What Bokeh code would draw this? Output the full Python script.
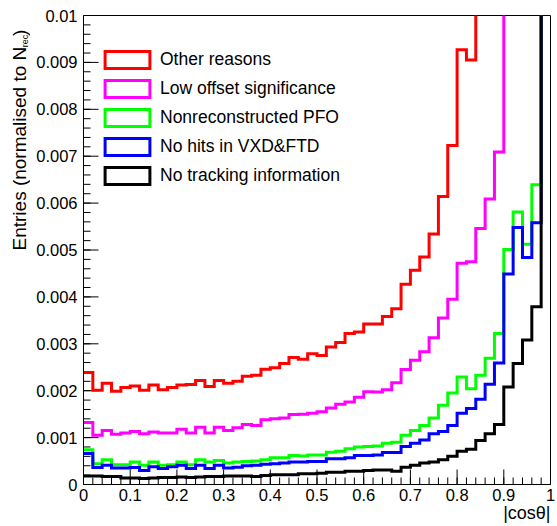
import math
from bokeh.plotting import figure
from bokeh.layouts import row
from bokeh.models import (Range1d, FixedTicker, Label, Legend, LegendItem, Title,
                          ColumnDataSource)
from bokeh.embed import file_html
from bokeh.resources import INLINE

# ---------------- data ----------------
n_bins = 50
bin_edges = [round(i / n_bins, 4) for i in range(n_bins + 1)]

series_names = ["Other reasons", "Low offset significance", "Nonreconstructed PFO",
                "No hits in VXD&FTD", "No tracking information"]
series_colors = ["#ff0000", "#ff00ff", "#00ff00", "#0000ff", "#000000"]

other_reasons = [0.00239, 0.00201, 0.00216, 0.00199, 0.00207, 0.00210, 0.00201, 0.00212, 0.00202, 0.00207,
                 0.00212, 0.00213, 0.00222, 0.00209, 0.00222, 0.00216, 0.00220, 0.00231, 0.00233, 0.00246,
                 0.00249, 0.00258, 0.00271, 0.00267, 0.00279, 0.00275, 0.00293, 0.00303, 0.00322, 0.00325,
                 0.00342, 0.00342, 0.00358, 0.00375, 0.00427, 0.00457, 0.00485, 0.00534, 0.00614, 0.00723,
                 0.00927, 0.00905, 0.0112, 0.0125, 0.0140, 0.0160, 0.0190, 0.0230, 0.0280, 0.0350]

low_offset = [0.00132, 0.00105, 0.00115, 0.00107, 0.00110, 0.00113, 0.00108, 0.00112, 0.00110, 0.00110,
              0.00118, 0.00110, 0.00122, 0.00110, 0.00122, 0.00115, 0.00121, 0.00128, 0.00126, 0.00138,
              0.00140, 0.00142, 0.00149, 0.00150, 0.00152, 0.00155, 0.00163, 0.00171, 0.00176, 0.00186,
              0.00198, 0.00197, 0.00202, 0.00217, 0.00245, 0.00265, 0.00283, 0.00313, 0.00355, 0.00395,
              0.00472, 0.00475, 0.00546, 0.00609, 0.00709, 0.0105, 0.0120, 0.0140, 0.0170, 0.0210]

nonreco_pfo = [0.00074, 0.00044, 0.00053, 0.00042, 0.00042, 0.00048, 0.00041, 0.00048, 0.00041, 0.00042,
               0.00048, 0.00042, 0.00053, 0.00048, 0.00051, 0.00046, 0.00048, 0.00049, 0.00050, 0.00053,
               0.00057, 0.00057, 0.00062, 0.00061, 0.00063, 0.00063, 0.00069, 0.00071, 0.00076, 0.00080,
               0.00081, 0.00082, 0.00088, 0.00090, 0.00105, 0.00115, 0.00126, 0.00142, 0.00169, 0.00195,
               0.00229, 0.00204, 0.00233, 0.00269, 0.00322, 0.00501, 0.00581, 0.00512, 0.00639, 0.0120]

no_hits = [0.00066, 0.00036, 0.00041, 0.00035, 0.00035, 0.00036, 0.00030, 0.00038, 0.00034, 0.00038,
           0.00041, 0.00034, 0.00041, 0.00034, 0.00041, 0.00035, 0.00037, 0.00040, 0.00041, 0.00043,
           0.00044, 0.00046, 0.00048, 0.00048, 0.00049, 0.00049, 0.00055, 0.00055, 0.00057, 0.00062,
           0.00062, 0.00063, 0.00068, 0.00068, 0.00081, 0.00088, 0.00095, 0.00108, 0.00113, 0.00126,
           0.00152, 0.00162, 0.00182, 0.00214, 0.00259, 0.00449, 0.00548, 0.00484, 0.00558, 0.0110]

no_tracking = [0.00018, 0.00018, 0.00017, 0.00017, 0.00014, 0.00014, 0.00013, 0.00014, 0.00015, 0.00015,
               0.00016, 0.00015, 0.00016, 0.00017, 0.00017, 0.00018, 0.00018, 0.00018, 0.00017, 0.00019,
               0.00021, 0.00021, 0.00021, 0.00023, 0.00023, 0.00024, 0.00026, 0.00026, 0.00028, 0.00028,
               0.00030, 0.00031, 0.00031, 0.00028, 0.00037, 0.00041, 0.00046, 0.00048, 0.00053, 0.00060,
               0.00071, 0.00075, 0.00094, 0.00108, 0.00128, 0.00208, 0.00258, 0.00308, 0.00379, 0.0105]

all_series = [other_reasons, low_offset, nonreco_pfo, no_hits, no_tracking]

x_ticks = [0.0, 0.1, 0.2, 0.3, 0.4, 0.5, 0.6, 0.7, 0.8, 0.9, 1.0]
x_tick_labels = ["0", "0.1", "0.2", "0.3", "0.4", "0.5", "0.6", "0.7", "0.8", "0.9", "1"]
y_ticks = [0.0, 0.001, 0.002, 0.003, 0.004, 0.005, 0.006, 0.007, 0.008, 0.009, 0.01]
y_tick_labels = ["0", "0.001", "0.002", "0.003", "0.004", "0.005", "0.006", "0.007",
                 "0.008", "0.009", "0.01"]
x_minor_ticks = [round(i * 0.02, 4) for i in range(51)]
y_minor_ticks = [round(i * 0.0002, 6) for i in range(51)]

x_title = "|cos\u03b8|"
y_title_main = "Entries (normalised to N"
y_title_sub = "rec"
y_title_end = ")"

# ---------------- geometry ----------------
FONT = "Liberation Sans"
PAGE_W, PAGE_H = 557, 526
TITLE_W = 30                      # narrow panel holding the y title
FRAME_L, FRAME_R, FRAME_T, FRAME_B = 83, 550, 15, 484
X0, X1, Y0, Y1 = 0.0, 1.0, 0.0, 0.01
px_x = (X1 - X0) / (FRAME_R - FRAME_L)   # data units per pixel
px_y = (Y1 - Y0) / (FRAME_B - FRAME_T)

# ---------------- main figure ----------------
p = figure(width=PAGE_W - TITLE_W, height=PAGE_H,
           x_range=Range1d(X0, X1), y_range=Range1d(Y0, Y1),
           output_backend="svg", toolbar_location=None,
           min_border_left=FRAME_L - TITLE_W, min_border_right=PAGE_W - FRAME_R,
           min_border_top=FRAME_T, min_border_bottom=PAGE_H - FRAME_B)
p.grid.visible = False
p.outline_line_color = "black"
p.outline_line_width = 1
p.background_fill_color = "white"
p.border_fill_color = "white"

p.xaxis.ticker = FixedTicker(ticks=x_ticks, minor_ticks=x_minor_ticks)
p.yaxis.ticker = FixedTicker(ticks=y_ticks, minor_ticks=y_minor_ticks)
p.xaxis.major_label_overrides = dict(zip(x_ticks, x_tick_labels))
p.yaxis.major_label_overrides = dict(zip(y_ticks, y_tick_labels))
for ax in (p.xaxis, p.yaxis):
    ax.axis_label = None
    ax.axis_label_standoff = 0
    ax.major_tick_in = 0
    ax.major_tick_out = 0
    ax.minor_tick_in = 0
    ax.minor_tick_out = 0
    ax.axis_line_color = "black"
    ax.major_label_text_font = FONT
    ax.major_label_text_font_size = "16.5px"
    ax.major_label_text_color = "black"
p.xaxis.major_label_standoff = 4
p.yaxis.major_label_standoff = 6

# inward tick marks (ROOT style), placed at the tick values
MAJ, MIN = 15, 7
p.segment(x0=x_ticks, y0=[Y0] * len(x_ticks), x1=x_ticks, y1=[Y0 + MAJ * px_y] * len(x_ticks),
          line_color="black", line_width=1)
p.segment(x0=x_minor_ticks, y0=[Y0] * len(x_minor_ticks), x1=x_minor_ticks,
          y1=[Y0 + MIN * px_y] * len(x_minor_ticks), line_color="black", line_width=1)
p.segment(x0=[X0] * len(y_ticks), y0=y_ticks, x1=[X0 + MAJ * px_x] * len(y_ticks), y1=y_ticks,
          line_color="black", line_width=1)
p.segment(x0=[X0] * len(y_minor_ticks), y0=y_minor_ticks, x1=[X0 + MIN * px_x] * len(y_minor_ticks),
          y1=y_minor_ticks, line_color="black", line_width=1)

# histograms (step outlines), drawn in ROOT order
legend_items = []
for name, color, vals in zip(series_names, series_colors, all_series):
    p.step(x=bin_edges, y=vals + [vals[-1]], mode="after",
           line_color=color, line_width=3, line_join="miter")
    src = ColumnDataSource(dict(left=bin_edges[:-1], right=bin_edges[1:],
                                top=vals, bottom=[0.0] * n_bins))
    r = p.quad(left="left", right="right", top="top", bottom="bottom", source=src,
               fill_alpha=0, line_color=color, line_width=3, line_join="miter")
    r.visible = False
    legend_items.append(LegendItem(label=name, renderers=[r]))

legend = Legend(items=legend_items, location=(16, 298), orientation="vertical",
                glyph_width=56, glyph_height=21, label_height=21, spacing=8,
                padding=0, margin=0, label_standoff=5,
                border_line_alpha=0, background_fill_alpha=0,
                label_text_font=FONT, label_text_font_size="17.5px",
                label_text_color="black", click_policy="none")
p.add_layout(legend)

# x-axis title, right aligned at the end of the axis
p.add_layout(Title(text=x_title, align="right", offset=0, standoff=-6,
                   text_font=FONT, text_font_size="18px", text_font_style="normal",
                   text_color="black"), "below")

# ---------------- y title panel ----------------
yt = figure(width=TITLE_W, height=PAGE_H, x_range=Range1d(0, TITLE_W), y_range=Range1d(0, PAGE_H),
            output_backend="svg", toolbar_location=None, x_axis_type=None, y_axis_type=None,
            min_border_left=0, min_border_right=0, min_border_top=0, min_border_bottom=0)
yt.grid.visible = False
yt.outline_line_color = None
yt.background_fill_color = "white"
yt.border_fill_color = "white"

# text_baseline "middle": the whole text box stays inside the narrow panel
yt.add_layout(Label(x=19.0, y=PAGE_H - 35, text=y_title_main, angle=math.pi / 2,
                    text_align="right", text_baseline="middle",
                    text_font=FONT, text_font_size="19px", text_color="black"))
yt.add_layout(Label(x=24.6, y=PAGE_H - 35.5, text=y_title_sub, angle=math.pi / 2,
                    text_align="left", text_baseline="middle",
                    text_font=FONT, text_font_size="9px", text_color="black"))
yt.add_layout(Label(x=19.0, y=PAGE_H - 23, text=y_title_end, angle=math.pi / 2,
                    text_align="left", text_baseline="middle",
                    text_font=FONT, text_font_size="19px", text_color="black"))

layout = row(yt, p, spacing=0)
open("out.html", "w").write(file_html(layout, INLINE, "plot"))
